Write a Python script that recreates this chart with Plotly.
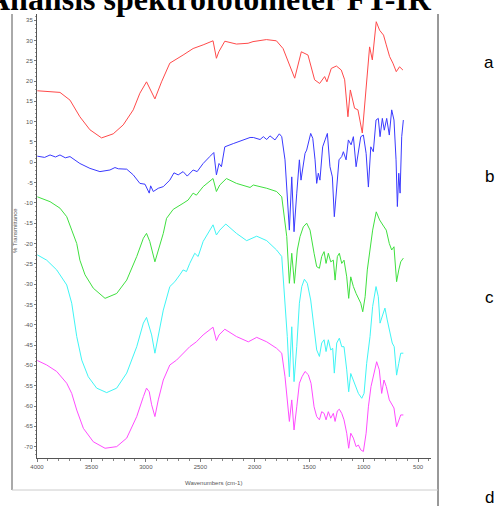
import plotly.graph_objects as go

# ---- data (wavenumber cm-1, % transmittance as plotted with offsets) ----
a_wn = [3997, 3789, 3697, 3606, 3514, 3407, 3300, 3208, 3116, 3055, 2994, 2917, 2856, 2780, 2658, 2566,
        2474, 2383, 2352, 2330, 2275, 2168, 2061, 2016, 1893, 1801, 1740, 1694, 1633, 1572, 1511, 1450,
        1404, 1358, 1337, 1297, 1250, 1205, 1174, 1144, 1122, 1083, 1052, 1012, 975, 945, 920, 884, 853,
        817, 792, 761, 731, 700, 670, 639]
a_t = [17.6, 17.2, 15.3, 11.2, 8.0, 6.0, 7.0, 9.2, 12.9, 17.0, 19.8, 15.6, 19.8, 24.4, 26.4, 28.0,
       28.9, 29.9, 25.6, 27.2, 29.8, 29.1, 29.3, 29.7, 30.2, 29.9, 28.0, 24.8, 20.7, 27.2, 26.4, 20.3,
       19.4, 21.1, 19.8, 23.1, 23.7, 22.7, 20.3, 11.2, 17.8, 13.3, 12.9, 7.2, 18.6, 28.4, 25.2, 34.6, 32.5,
       31.3, 28.9, 26.0, 24.4, 22.3, 23.5, 22.7]

b_wn = [3997, 3930, 3880, 3830, 3789, 3740, 3697, 3606, 3514, 3422, 3330, 3284, 3253, 3176, 3116, 3055,
        3008, 2969, 2956, 2932, 2886, 2840, 2780, 2742, 2703, 2658, 2620, 2566, 2529, 2474, 2413, 2376,
        2352, 2328, 2306, 2275, 2197, 2105, 2043, 2013, 1951, 1921, 1890, 1860, 1814, 1774, 1752, 1722,
        1701, 1682, 1660, 1639, 1614, 1590, 1575, 1554, 1538, 1523, 1508, 1486, 1467, 1446, 1431, 1416,
        1401, 1376, 1354, 1333, 1309, 1287, 1269, 1247, 1226, 1201, 1186, 1161, 1140, 1115, 1094, 1069,
        1048, 1026, 1002, 977, 956, 934, 911, 886, 865, 849, 828, 810, 788, 764, 742, 721, 702, 690, 677,
        665, 650, 635]
b_t = [1.5, 1.2, 1.8, 1.3, 1.8, 1.1, 1.4, -0.3, -1.5, -2.3, -1.9, -1.3, -1.6, -1.7, -3.1, -5.2,
       -5.4, -7.6, -5.8, -7.2, -6.4, -6.0, -4.4, -2.6, -3.1, -2.3, -3.4, -1.9, -2.3, -0.3, 1.4, 2.4,
       -3.1, -0.3, -1.1, 3.8, 4.6, 5.5, 6.1, 6.1, 5.6, 6.3, 5.6, 6.5, 5.5, 7.0, 6.3, 0.6,
       -7.6, -16.7, -3.6, -17.1, -7.6, 0.6, -4.4, -0.3, 2.2, 3.0, 4.7, 7.1, 5.9, 0.6, -5.2, -2.7,
       -4.4, 3.8, 5.5, 7.1, -1.1, -3.6, -13.4, -6.1, 0.6, 1.4, 2.6, 0.6, 5.5, 4.3, 6.3, -1.1,
       2.2, 6.3, 6.7, 2.2, -6.1, 3.8, 2.6, 10.4, 10.8, 6.3, 10.8, 7.9, 10.8, 6.7, 12.9, 10.4, 0.6, -10.9, -2.7,
       -7.6, 6.3, 10.4]

c_wn = [3997, 3880, 3789, 3727, 3681, 3635, 3606, 3559, 3483, 3375, 3268, 3176, 3084, 3023, 2994, 2964,
        2917, 2886, 2840, 2810, 2749, 2658, 2612, 2566, 2536, 2474, 2383, 2352, 2321, 2260, 2168, 2043,
        2013, 1890, 1799, 1752, 1722, 1706, 1682, 1660, 1636, 1609, 1584, 1554, 1523, 1492, 1455, 1431,
        1406, 1385, 1363, 1345, 1324, 1302, 1278, 1262, 1241, 1223, 1201, 1180, 1155, 1137, 1118, 1094,
        1069, 1048, 1026, 1008, 986, 966, 941, 917, 884, 853, 817, 792, 764, 742, 721, 697, 677, 659, 635]
c_t = [-8.5, -9.7, -11.3, -13.4, -16.7, -20.0, -24.1, -27.7, -31.0, -33.5, -32.3, -29.0, -23.2, -18.7, -17.5, -19.5,
       -24.5, -21.6, -17.5, -13.8, -11.6, -10.1, -9.3, -7.6, -8.1, -6.0, -4.0, -7.2, -5.6, -4.0, -5.2, -6.2,
       -5.6, -6.4, -7.2, -8.5, -14.2, -18.3, -29.8, -22.4, -29.8, -21.6, -18.3, -15.9, -15.0, -16.7, -22.4, -25.7,
       -26.1, -23.2, -22.0, -24.9, -22.4, -24.5, -24.1, -29.0, -23.2, -22.4, -24.9, -24.1, -28.2, -33.5, -28.2, -30.6,
       -32.3, -33.5, -34.7, -36.8, -33.1, -26.5, -20.8, -16.7, -12.2, -14.2, -15.7, -16.7, -20.0, -21.6, -20.8, -29.4,
       -26.5, -24.5, -23.6]

d_wn = [3997, 3911, 3819, 3727, 3681, 3635, 3589, 3529, 3452, 3360, 3268, 3176, 3084, 3023, 2994, 2969,
        2947, 2917, 2886, 2840, 2780, 2734, 2688, 2658, 2627, 2597, 2551, 2520, 2474, 2383, 2352, 2321,
        2266, 2168, 2074, 1982, 1890, 1799, 1752, 1722, 1701, 1682, 1660, 1639, 1614, 1590, 1568, 1544,
        1517, 1486, 1455, 1431, 1406, 1385, 1363, 1345, 1324, 1302, 1284, 1269, 1247, 1223, 1201, 1180,
        1155, 1137, 1118, 1094, 1069, 1048, 1017, 996, 972, 941, 917, 886, 865, 849, 825, 804, 783, 758,
        737, 719, 697, 677, 659, 635]
d_t = [-22.8, -24.1, -26.5, -30.2, -34.7, -42.9, -48.7, -52.8, -55.6, -56.7, -55.6, -51.9, -45.4, -39.6, -38.2, -40.5,
       -42.5, -47.0, -42.9, -36.4, -30.6, -29.4, -27.7, -26.5, -26.9, -24.9, -22.4, -23.2, -19.5, -15.4, -17.9, -16.7,
       -15.2, -17.5, -19.3, -18.2, -19.3, -21.6, -23.2, -34.7, -42.9, -52.8, -40.5, -54.0, -45.4, -34.7, -30.6, -28.8,
       -29.8, -33.9, -41.3, -46.2, -47.8, -44.5, -43.7, -46.6, -43.7, -46.2, -45.8, -51.9, -44.5, -43.3, -45.4, -45.4,
       -51.1, -56.5, -52.0, -53.6, -55.7, -56.9, -58.1, -56.9, -49.5, -42.9, -35.5, -30.6, -33.1, -39.6, -37.6, -35.9, -38.8, -42.1,
       -44.5, -45.4, -52.4, -49.5, -47.0, -47.0]

e_wn = [3997, 3911, 3819, 3727, 3681, 3635, 3574, 3483, 3375, 3268, 3176, 3084, 3023, 2994, 2969, 2947,
        2917, 2886, 2840, 2780, 2718, 2658, 2597, 2536, 2474, 2383, 2352, 2328, 2275, 2168, 2059, 1982,
        1890, 1799, 1752, 1722, 1701, 1682, 1660, 1639, 1614, 1590, 1566, 1538, 1508, 1483, 1455, 1431,
        1406, 1385, 1363, 1345, 1324, 1302, 1278, 1262, 1241, 1223, 1201, 1180, 1155, 1137, 1118, 1094,
        1069, 1048, 1026, 1002, 977, 956, 932, 911, 880, 856, 834, 813, 792, 764, 742, 721, 697, 677, 659, 635]
e_t = [-48.8, -49.9, -51.5, -54.4, -56.9, -61.0, -65.5, -68.8, -70.4, -70.0, -67.9, -62.6, -57.7, -55.6, -56.5, -59.7,
       -62.6, -58.5, -53.6, -49.9, -48.7, -47.0, -45.4, -44.2, -42.5, -40.6, -43.9, -42.5, -41.1, -42.9, -44.2, -43.1,
       -44.2, -45.8, -47.0, -52.8, -58.5, -63.8, -58.5, -65.9, -60.2, -54.4, -52.8, -51.5, -52.3, -54.4, -60.2, -62.6,
       -63.4, -61.4, -61.8, -63.4, -61.4, -63.0, -61.8, -63.8, -61.2, -60.8, -61.8, -63.4, -66.7, -70.4, -66.7, -67.9,
       -70.0, -69.6, -70.8, -71.2, -66.7, -60.2, -55.2, -52.8, -49.1, -51.1, -56.9, -53.6, -55.2, -58.5, -59.7, -60.5,
       -65.1, -63.4, -62.2, -62.2]

series = [
    ("a", a_wn, a_t, "#ff4a4a"),
    ("b", b_wn, b_t, "#3a3aff"),
    ("c", c_wn, c_t, "#3fe03f"),
    ("d", d_wn, d_t, "#3ff5f5"),
    ("e", e_wn, e_t, "#ff4cff"),
]
x_ticks = [4000, 3500, 3000, 2500, 2000, 1500, 1000, 500]
y_ticks = list(range(35, -75, -5))
side_labels = ["a", "b", "c", "d"]

W, H = 500, 506
L, R, T, B = 37, 431, 14, 458

fig = go.Figure()
for name, wn, t, col in series:
    fig.add_trace(go.Scatter(x=wn, y=t, mode="lines", name=name,
                             line=dict(color=col, width=1), showlegend=False, hoverinfo="skip"))

tickfont = dict(family="Liberation Sans, Arial", size=6, color="#555555")
fig.update_layout(
    width=W, height=H,
    margin=dict(l=L, r=W - R, t=T, b=H - B, pad=0),
    paper_bgcolor="white", plot_bgcolor="white",
    xaxis=dict(range=[4000, 381], tickvals=x_ticks, ticktext=[str(v) for v in x_ticks],
               showgrid=False, zeroline=False, showline=True, linecolor="#555555", linewidth=1,
               ticks="outside", ticklen=3, tickcolor="#777777", tickfont=tickfont,
               minor=dict(dtick=100, ticks="outside", ticklen=2, tickcolor="#888888", showgrid=False)),
    yaxis=dict(range=[-72.8, 36.5], tickvals=y_ticks, ticktext=[str(v) for v in y_ticks],
               showgrid=False, zeroline=False, showline=True, linecolor="#555555", linewidth=1,
               ticks="outside", ticklen=2, tickcolor="#777777", tickfont=tickfont,
               minor=dict(dtick=1, ticks="outside", ticklen=1, tickcolor="#999999", showgrid=False)),
)

def px(xp):
    return (xp - L) / (R - L)

def py(yp):
    return (B - yp) / (B - T)

# frame lines of the original figure
fig.add_shape(type="line", xref="paper", yref="paper", x0=px(12), x1=px(12), y0=py(14), y1=py(490),
              line=dict(color="#555555", width=1))
fig.add_shape(type="line", xref="paper", yref="paper", x0=px(438), x1=px(438), y0=py(14), y1=py(506),
              line=dict(color="#333333", width=1))
fig.add_shape(type="line", xref="paper", yref="paper", x0=px(12), x1=px(438), y0=py(490), y1=py(490),
              line=dict(color="#cccccc", width=1))

# title
fig.add_annotation(text="<b>Analisis spektrofotometer FT-IR</b>", xref="paper", yref="paper",
                   x=px(209), y=py(-1), xanchor="center", yanchor="middle", showarrow=False,
                   font=dict(family="Liberation Serif, Times New Roman", size=32, color="black"))
# axis titles
fig.add_annotation(text="Wavenumbers (cm-1)", xref="paper", yref="paper", x=px(213), y=py(483),
                   xanchor="center", yanchor="middle", showarrow=False,
                   font=dict(family="Liberation Sans, Arial", size=6, color="#555555"))
fig.add_annotation(text="% Transmittance", xref="paper", yref="paper", x=px(15), y=py(231),
                   xanchor="center", yanchor="middle", showarrow=False, textangle=-90,
                   font=dict(family="Liberation Sans, Arial", size=6, color="#555555"))
# side labels
for lab, yp in zip(side_labels, [62, 176, 297, 497]):
    fig.add_annotation(text=lab, xref="paper", yref="paper", x=px(489), y=py(yp),
                       xanchor="center", yanchor="middle", showarrow=False,
                       font=dict(family="Liberation Sans, Arial", size=17, color="black"))

fig.write_html("out.html")
